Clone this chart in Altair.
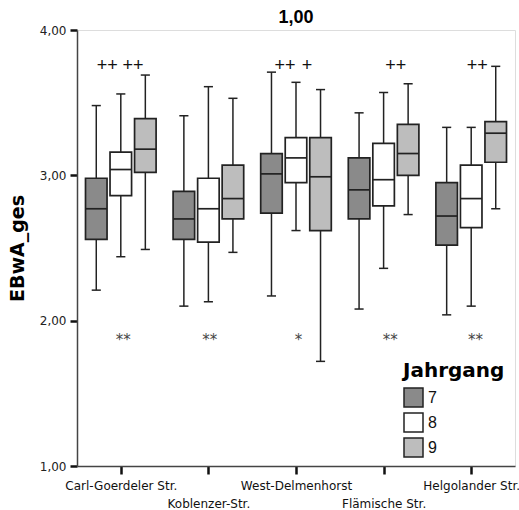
import altair as alt
import pandas as pd

schools = ["Carl-Goerdeler Str.", "Koblenzer-Str.", "West-Delmenhorst",
           "Flämische Str.", "Helgolander Str."]
jahrgang = [7, 8, 9]
colors = ["#8a8a8a", "#ffffff", "#bdbdbd"]

# per school: values for Jahrgang 7, 8, 9
lower = [[2.21, 2.44, 2.49], [2.10, 2.13, 2.47], [2.17, 2.62, 1.72],
         [2.08, 2.36, 2.73], [2.04, 2.10, 2.77]]
q1 = [[2.56, 2.86, 3.02], [2.56, 2.54, 2.70], [2.74, 2.95, 2.62],
      [2.70, 2.79, 3.00], [2.52, 2.64, 3.09]]
median = [[2.77, 3.04, 3.18], [2.70, 2.77, 2.84], [3.01, 3.12, 2.99],
          [2.90, 2.97, 3.15], [2.72, 2.84, 3.29]]
q3 = [[2.98, 3.16, 3.39], [2.89, 2.98, 3.07], [3.15, 3.26, 3.26],
      [3.12, 3.22, 3.35], [2.95, 3.07, 3.37]]
upper = [[3.48, 3.56, 3.69], [3.41, 3.61, 3.53], [3.71, 3.64, 3.59],
         [3.43, 3.57, 3.63], [3.33, 3.33, 3.75]]

# annotations: school index, slot on the Jahrgang scale, text, value
ann_school = [0, 0, 2, 2, 3, 4, 0, 1, 2, 3, 4]
ann_slot = [7.45, 8.5, 7.55, 8.45, 8.5, 8.25, 8.1, 8.05, 8.1, 8.27, 8.18]
ann_text = ["++", "++", "++", "+", "++", "++", "**", "**", "*", "**", "**"]
ann_value = [3.75, 3.75, 3.75, 3.75, 3.75, 3.75, 1.895, 1.895, 1.895, 1.895, 1.895]

rows = []
for si, name in enumerate(schools):
    for ji, j in enumerate(jahrgang):
        rows.append(dict(si=si, school=name, j=j, Jahrgang=str(j),
                         lo=lower[si][ji], q1=q1[si][ji], med=median[si][ji],
                         q3=q3[si][ji], hi=upper[si][ji]))
df = pd.DataFrame(rows)
ann = pd.DataFrame(dict(si=ann_school, j=ann_slot, txt=ann_text, v=ann_value))

xscale = alt.Scale(domain=[-0.5, 4.5], nice=False, zero=False)
yscale = alt.Scale(domain=[1, 4], nice=False, zero=False)

label_arr = "[" + ",".join(
    ("['%s']" % n) if i % 2 == 0 else ("['', '%s']" % n)
    for i, n in enumerate(schools)) + "]"

xaxis = alt.Axis(values=[0, 1, 2, 3, 4], title=None,
                 labelExpr=label_arr + "[datum.value]",
                 labelFont="DejaVu Sans", labelFontSize=12, labelColor="#111",
                 labelLineHeight=18, labelPadding=6, labelOverlap=False,
                 labelFlush=False,
                 tickSize=8, tickWidth=2.5, tickColor="#111",
                 domainColor="#444", domainWidth=1.5, grid=False)
yaxis = alt.Axis(values=[1, 2, 3, 4], title="EBwA_ges",
                 labelExpr="replace(format(datum.value, '.2f'), '.', ',')",
                 labelFont="DejaVu Sans", labelFontSize=12, labelColor="#222",
                 labelPadding=4, tickSize=7, tickWidth=2.5, tickColor="#111",
                 domainColor="#444", domainWidth=1.5, grid=False,
                 labelFlush=False, labelOverlap=False,
                 titleFont="DejaVu Sans", titleFontSize=19, titleFontWeight="bold",
                 titleColor="#000", titlePadding=12)

base = alt.Chart(df).transform_calculate(
    pos="datum.si + (datum.j - 8) * 0.28",
    xl="datum.si + (datum.j - 8) * 0.28 - 0.123",
    xr="datum.si + (datum.j - 8) * 0.28 + 0.123",
    cl="datum.si + (datum.j - 8) * 0.28 - 0.052",
    cr="datum.si + (datum.j - 8) * 0.28 + 0.052",
)

whisker = base.mark_rule(color="#222", strokeWidth=1.5).encode(
    x=alt.X("pos:Q", scale=xscale, axis=xaxis),
    y=alt.Y("lo:Q", scale=yscale, axis=yaxis),
    y2="hi:Q",
)
cap_hi = base.mark_rule(color="#222", strokeWidth=1.5).encode(
    x=alt.X("cl:Q", scale=xscale), x2="cr:Q", y=alt.Y("hi:Q", scale=yscale))
cap_lo = base.mark_rule(color="#222", strokeWidth=1.5).encode(
    x=alt.X("cl:Q", scale=xscale), x2="cr:Q", y=alt.Y("lo:Q", scale=yscale))

box = base.mark_rect(stroke="#222", strokeWidth=1.7).encode(
    x=alt.X("xl:Q", scale=xscale), x2="xr:Q",
    y=alt.Y("q1:Q", scale=yscale), y2="q3:Q",
    color=alt.Color("Jahrgang:N",
                    scale=alt.Scale(domain=["7", "8", "9"], range=colors),
                    legend=alt.Legend(
                        title="Jahrgang", orient="none", legendX=326, legendY=331,
                        symbolType="square", symbolSize=361,
                        symbolStrokeColor="#222", symbolStrokeWidth=1.5,
                        symbolOpacity=1,
                        titleFont="DejaVu Sans", titleFontSize=20,
                        titleFontWeight="bold", titleColor="#000",
                        labelFont="Liberation Sans", labelFontSize=16,
                        labelColor="#111", rowPadding=0, titlePadding=6,
                        labelOffset=4, padding=0)),
)
med = base.mark_rule(color="#222", strokeWidth=1.7).encode(
    x=alt.X("xl:Q", scale=xscale), x2="xr:Q", y=alt.Y("med:Q", scale=yscale))

abase = alt.Chart(ann).transform_calculate(pos="datum.si + (datum.j - 8) * 0.28")
plus = abase.transform_filter("indexof(datum.txt, '+') >= 0").mark_text(
    font="Liberation Sans", fontSize=18, color="#111", baseline="middle").encode(
    x=alt.X("pos:Q", scale=xscale), y=alt.Y("v:Q", scale=yscale), text="txt:N")
stars = abase.transform_filter("indexof(datum.txt, '*') >= 0").mark_text(
    font="DejaVu Sans", fontSize=15, color="#444", baseline="middle", dy=4).encode(
    x=alt.X("pos:Q", scale=xscale), y=alt.Y("v:Q", scale=yscale), text="txt:N")

chart = alt.layer(whisker, cap_hi, cap_lo, box, med, plus, stars).properties(
    width=438, height=436,
    title=alt.Title("1,00", font="Liberation Sans", fontSize=18, fontWeight="bold",
                    color="#000", baseline="bottom", offset=1, anchor="middle",
                    frame="group", dy=22),
    autosize=alt.AutoSizeParams(type="none"),
    padding={"left": 77, "top": 30, "right": 4, "bottom": 44},
).configure_view(stroke="#6e6e6e", strokeWidth=1.5).configure(background="#ffffff")

chart.save("out.html", embed_options={"renderer": "svg", "actions": False})
